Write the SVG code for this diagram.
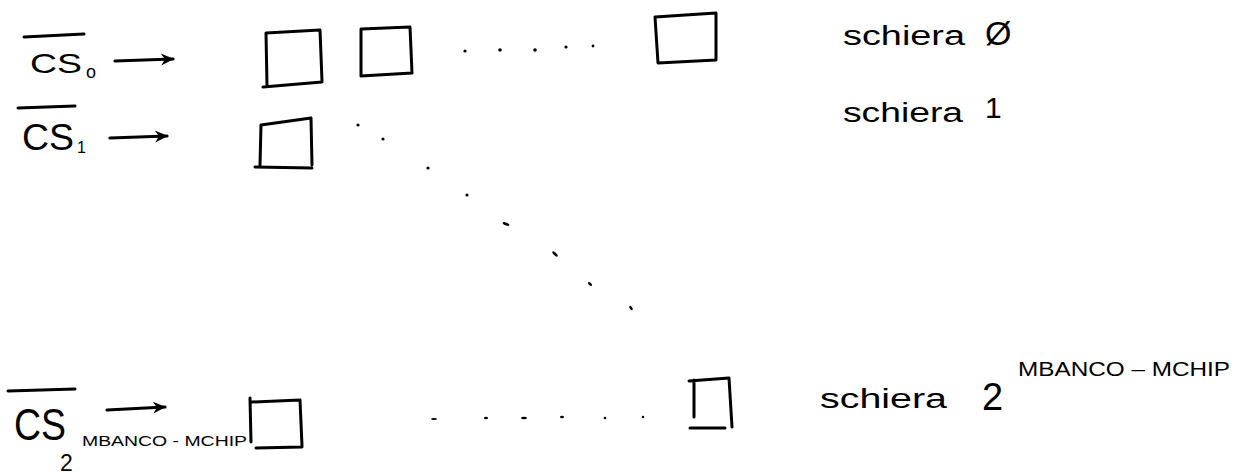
<svg xmlns="http://www.w3.org/2000/svg" width="1247" height="475" viewBox="0 0 1247 475">
<style>
.ink{fill:none;stroke:#000;stroke-width:3;stroke-linecap:round;stroke-linejoin:round}
.arr{fill:none;stroke:#000;stroke-width:3.2;stroke-linecap:round}
.t{font-family:"Liberation Sans",Arial,sans-serif;fill:#000}
.dot{fill:#000}
</style>
<defs>
<marker id="ah" markerWidth="16" markerHeight="14" refX="13" refY="7" orient="auto" markerUnits="userSpaceOnUse">
<path d="M1,1 L14,7 L1,13 L5,7 Z" fill="#000"/>
</marker>
</defs>
<rect width="1247" height="475" fill="#fff"/>

<g id="label-cs0">
<line class="ink" x1="24" y1="37" x2="84" y2="34"/>
<text class="t" x="30" y="73" font-size="28" textLength="52" lengthAdjust="spacingAndGlyphs">CS</text>
<text class="t" x="86" y="78" font-size="18">o</text>
</g>
<g id="label-cs1">
<line class="ink" x1="18" y1="108" x2="75" y2="106"/>
<text class="t" x="22" y="150" font-size="36" textLength="52" lengthAdjust="spacingAndGlyphs">CS</text>
<text class="t" x="77" y="153" font-size="16">1</text>
</g>
<g id="label-csn">
<line class="ink" x1="8" y1="391" x2="75" y2="389"/>
<text class="t" x="14" y="440" font-size="44" textLength="52" lengthAdjust="spacingAndGlyphs">CS</text>
<text class="t" x="60" y="471" font-size="23">2</text>
<text class="t" x="82" y="446" font-size="15" textLength="165" lengthAdjust="spacingAndGlyphs">MBANCO - MCHIP</text>
</g>

<g id="connectors">
<line class="arr" x1="115" y1="61" x2="173" y2="59" marker-end="url(#ah)"/>
<line class="arr" x1="110" y1="138" x2="167" y2="136" marker-end="url(#ah)"/>
<line class="arr" x1="107" y1="410" x2="165" y2="407" marker-end="url(#ah)"/>
</g>

<g id="row0-chip0"><path class="ink" d="M267,86 L266,33 L320,30 L322,81 M263,87 L322,82"/></g>
<g id="row0-chip1"><path class="ink" d="M361,76 L361,29 L410,27 L412,73 L361,76"/></g>
<g id="row0-chipN"><path class="ink" d="M658,63 L655,17 L716,13 L716,60 L658,63"/></g>
<g id="row1-chip0"><path class="ink" d="M260,165 L261,125 L311,118 L312,165 M255,167 L312,168"/></g>
<g id="rowN-chip0"><path class="ink" d="M250,398 L251,442 M252,402 L300,400 L302,446 M256,448 L302,447"/></g>
<g id="rowN-chipN"><path class="ink" d="M689,381 L729,378 L732,427 M694,380 L694,417 M690,428 L725,428"/></g>

<g id="dots">
<circle class="dot" cx="465" cy="51" r="1.6"/>
<circle class="dot" cx="500" cy="50" r="1.8"/>
<circle class="dot" cx="535" cy="50" r="1.8"/>
<circle class="dot" cx="566" cy="47" r="1.6"/>
<circle class="dot" cx="593" cy="46" r="1.4"/>
<circle class="dot" cx="358" cy="125" r="1.6"/>
<circle class="dot" cx="383" cy="139" r="1.6"/>
<circle class="dot" cx="428" cy="168" r="1.6"/>
<circle class="dot" cx="467" cy="195" r="1.6"/>
<ellipse class="dot" cx="506" cy="224" rx="3.5" ry="1.4" transform="rotate(20 506 224)"/>
<ellipse class="dot" cx="555" cy="254" rx="3.5" ry="1.4" transform="rotate(45 555 254)"/>
<ellipse class="dot" cx="590" cy="284" rx="2.5" ry="1.3" transform="rotate(45 590 284)"/>
<ellipse class="dot" cx="631" cy="308" rx="2.5" ry="1.3" transform="rotate(55 631 308)"/>
<ellipse class="dot" cx="434" cy="419" rx="3" ry="1"/>
<ellipse class="dot" cx="486" cy="418" rx="2" ry="1.2"/>
<ellipse class="dot" cx="524" cy="418" rx="3" ry="1.2"/>
<ellipse class="dot" cx="562" cy="417" rx="2" ry="1.2"/>
<circle class="dot" cx="605" cy="418" r="1.3"/>
<circle class="dot" cx="643" cy="417" r="1.2"/>
</g>

<g id="label-row0">
<text class="t" x="843" y="45" font-size="27" textLength="122" lengthAdjust="spacingAndGlyphs">schiera</text>
<text class="t" x="985" y="45" font-size="34">Ø</text>
</g>
<g id="label-row1">
<text class="t" x="843" y="122" font-size="27" textLength="120" lengthAdjust="spacingAndGlyphs">schiera</text>
<text class="t" x="985" y="118" font-size="30">1</text>
</g>
<g id="label-rowN">
<text class="t" x="820" y="408" font-size="27" textLength="127" lengthAdjust="spacingAndGlyphs">schiera</text>
<text class="t" x="982" y="410" font-size="38">2</text>
<text class="t" x="1018" y="376" font-size="20" textLength="212" lengthAdjust="spacingAndGlyphs">MBANCO – MCHIP</text>
</g>
</svg>
